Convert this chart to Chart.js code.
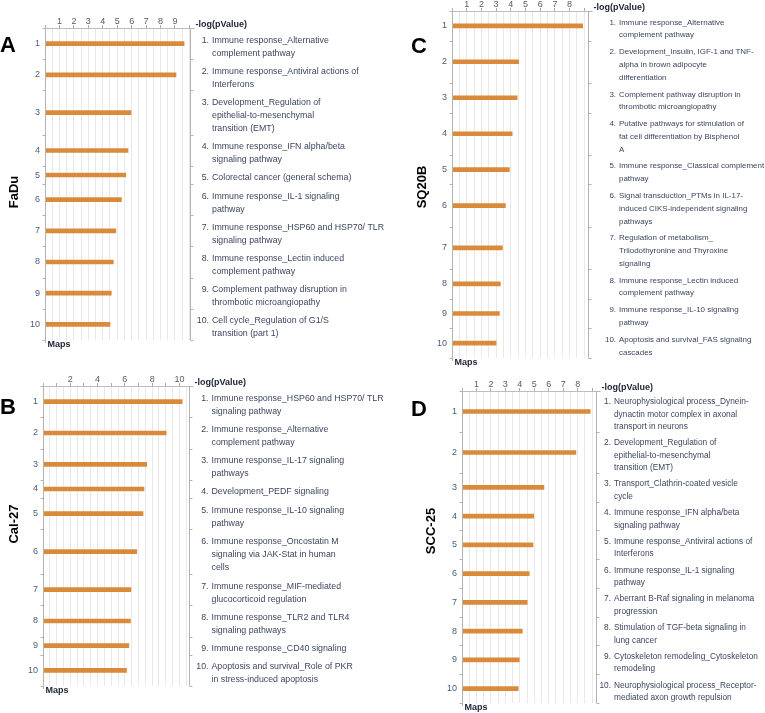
<!DOCTYPE html>
<html>
<head>
<meta charset="utf-8">
<script src="https://cdn.jsdelivr.net/npm/chart.js@4.4.1/dist/chart.umd.min.js"></script>
<style>
  body { margin: 0; background: #fff; }
  #wrap { position: relative; width: 765px; height: 713px; overflow: hidden; }
  canvas { position: absolute; left: 0; top: 0; }
  .tag { position: absolute; font-family: "Liberation Sans", Arial, sans-serif; font-weight: bold; color: #000; font-size: 22px; line-height: 1; transform: translate(-50%, -50%); }
  .name { position: absolute; font-family: "Liberation Sans", Arial, sans-serif; font-weight: bold; font-size: 13px; color: #000; white-space: nowrap; transform: translate(-50%, -50%) rotate(-90deg); }
</style>
</head>
<body>
<div id="wrap">
  <canvas id="cA" width="765" height="713"></canvas>
  <canvas id="cB" width="765" height="713"></canvas>
  <canvas id="cC" width="765" height="713"></canvas>
  <canvas id="cD" width="765" height="713"></canvas>
  <div class="tag" style="left:8px;top:45px">A</div>
  <div class="tag" style="left:8px;top:407px">B</div>
  <div class="tag" style="left:419px;top:46px">C</div>
  <div class="tag" style="left:419px;top:409px">D</div>
  <div class="name" style="left:13px;top:192px">FaDu</div>
  <div class="name" style="left:13px;top:524px">Cal-27</div>
  <div class="name" style="left:421px;top:187px">SQ20B</div>
  <div class="name" style="left:430px;top:531px">SCC-25</div>
</div>
<script>
// map names (line breaks as in the figure) and -log(pValue) values
const mapsA = [
  "Immune response_Alternative\ncomplement pathway",
  "Immune response_Antiviral actions of\nInterferons",
  "Development_Regulation of\nepithelial-to-mesenchymal\ntransition (EMT)",
  "Immune response_IFN alpha/beta\nsignaling pathway",
  "Colorectal cancer (general schema)",
  "Immune response_IL-1 signaling\npathway",
  "Immune response_HSP60 and HSP70/ TLR\nsignaling pathway",
  "Immune response_Lectin induced\ncomplement pathway",
  "Complement pathway disruption in\nthrombotic microangiopathy",
  "Cell cycle_Regulation of G1/S\ntransition (part 1)"
];
const valuesA = [9.63, 9.07, 5.96, 5.75, 5.59, 5.29, 4.9, 4.73, 4.59, 4.5];

const mapsB = [
  "Immune response_HSP60 and HSP70/ TLR\nsignaling pathway",
  "Immune response_Alternative\ncomplement pathway",
  "Immune response_IL-17 signaling\npathways",
  "Development_PEDF signaling",
  "Immune response_IL-10 signaling\npathway",
  "Immune response_Oncostatin M\nsignaling via JAK-Stat in human\ncells",
  "Immune response_MIF-mediated\nglucocorticoid regulation",
  "Immune response_TLR2 and TLR4\nsignaling pathways",
  "Immune response_CD40 signaling",
  "Apoptosis and survival_Role of PKR\nin stress-induced apoptosis"
];
const valuesB = [10.2, 9.03, 7.6, 7.4, 7.33, 6.87, 6.44, 6.41, 6.29, 6.12];

const mapsC = [
  "Immune response_Alternative\ncomplement pathway",
  "Development_Insulin, IGF-1 and TNF-\nalpha in brown adipocyte\ndifferentiation",
  "Complement pathway disruption in\nthrombotic microangiopathy",
  "Putative pathways for stimulation of\nfat cell differentiation by Bisphenol\nA",
  "Immune response_Classical complement\npathway",
  "Signal transduction_PTMs in IL-17-\ninduced CIKS-independent signaling\npathways",
  "Regulation of metabolism_\nTriiodothyronine and Thyroxine\nsignaling",
  "Immune response_Lectin induced\ncomplement pathway",
  "Immune response_IL-10 signaling\npathway",
  "Apoptosis and survival_FAS signaling\ncascades"
];
const valuesC = [8.89, 4.54, 4.43, 4.09, 3.9, 3.63, 3.43, 3.29, 3.22, 3.0];

const mapsD = [
  "Neurophysiological process_Dynein-\ndynactin motor complex in axonal\ntransport in neurons",
  "Development_Regulation of\nepithelial-to-mesenchymal\ntransition (EMT)",
  "Transport_Clathrin-coated vesicle\ncycle",
  "Immune response_IFN alpha/beta\nsignaling pathway",
  "Immune response_Antiviral actions of\nInterferons",
  "Immune response_IL-1 signaling\npathway",
  "Aberrant B-Raf signaling in melanoma\nprogression",
  "Stimulation of TGF-beta signaling in\nlung cancer",
  "Cytoskeleton remodeling_Cytoskeleton\nremodeling",
  "Neurophysiological process_Receptor-\nmediated axon growth repulsion"
];
const valuesD = [8.87, 7.88, 5.67, 4.96, 4.91, 4.65, 4.51, 4.17, 3.96, 3.89];

const FONT = '"Liberation Sans", Arial, sans-serif';
const BAR = '#d98a3a';

// draws borders, row ticks, row numbers and the map names
const rowPlugin = {
  id: 'rows',
  afterDraw(chart, args, o) {
    const ctx = chart.ctx, a = chart.chartArea, y = chart.scales.y, b = o.box;
    const L = Math.round(a.left) + 0.5, R = Math.round(a.right) + 0.5;
    ctx.save();
    ctx.strokeStyle = '#b3b3b3';
    ctx.lineWidth = 1;
    ctx.beginPath();
    ctx.moveTo(L, a.top - 3); ctx.lineTo(L, a.bottom + 3);
    ctx.moveTo(R, a.top); ctx.lineTo(R, a.bottom);
    o.bounds.forEach(v => {
      const py = Math.round(y.getPixelForValue(v)) + 0.5;
      ctx.moveTo(L - 3, py); ctx.lineTo(L, py);
      ctx.moveTo(R, py); ctx.lineTo(R + 3, py);
    });
    const ty = Math.round(a.top) + 0.5;
    ctx.moveTo(R, ty); ctx.lineTo(R + 4, ty);
    ctx.stroke();

    ctx.font = '9px ' + FONT;
    ctx.fillStyle = '#4e5a74';
    ctx.textBaseline = 'middle';
    ctx.textAlign = 'right';
    o.centers.forEach((c, i) => ctx.fillText(String(i + 1), a.left - 5, y.getPixelForValue(c)));

    ctx.font = b.fs + 'px ' + FONT;
    ctx.fillStyle = '#3d4660';
    o.maps.forEach((m, i) => {
      const lines = m.split('\n');
      const cy = y.getPixelForValue(o.centers[i]) + 3;
      const y0 = cy - (lines.length - 1) * b.lh / 2;
      ctx.textAlign = 'right';
      ctx.fillText((i + 1) + '.', b.textX - 3, y0);
      ctx.textAlign = 'left';
      lines.forEach((ln, k) => ctx.fillText(ln, b.textX, y0 + k * b.lh));
    });

    ctx.font = 'bold 9px ' + FONT;
    ctx.fillStyle = '#1d2336';
    ctx.textAlign = 'left';
    ctx.fillText('-log(pValue)', R + 5, a.top - 3);
    ctx.fillText('Maps', L + 2, a.bottom + 5);
    ctx.restore();
  }
};

function makePanel(id, maps, values, box) {
  const units = maps.map(m => m.split('\n').length + 0.35);
  const bounds = [0];
  units.forEach(u => bounds.push(bounds[bounds.length - 1] + u));
  const centers = units.map((u, i) => bounds[i] + u / 2);
  const total = bounds[bounds.length - 1];

  new Chart(document.getElementById(id), {
    type: 'bar',
    data: {
      datasets: [{
        data: values.map((v, i) => ({ x: v, y: centers[i] })),
        backgroundColor: BAR,
        barThickness: 4
      }]
    },
    options: {
      indexAxis: 'y',
      responsive: false,
      animation: false,
      layout: { padding: { left: box.left, right: 765 - box.right, top: box.top - 14, bottom: 713 - box.bottom } },
      plugins: {
        legend: { display: false },
        tooltip: { enabled: false },
        rows: { maps: maps, bounds: bounds, centers: centers, box: box }
      },
      scales: {
        y: { type: 'linear', reverse: true, min: 0, max: total, offset: false, display: false },
        x: {
          type: 'linear',
          position: 'top',
          min: 0,
          max: box.max,
          afterBuildTicks: s => {
            const t = [];
            for (let v = 0; v <= box.max + 1e-9; v += 0.5) t.push({ value: v });
            s.ticks = t;
          },
          afterFit: s => { s.height = 14; },
          ticks: {
            autoSkip: false,
            maxRotation: 0,
            padding: -2,
            color: '#555b6b',
            font: { family: FONT, size: 9 },
            callback: v => (v > 0 && v % box.step === 0 && v <= box.max - 0.6) ? String(v) : ''
          },
          grid: {
            color: '#e8e8e8',
            tickLength: 3,
            tickColor: c => (c.tick && c.tick.value % 1 === 0) ? '#aaaaaa' : 'rgba(0,0,0,0)'
          },
          border: { color: '#bdbdbd' }
        }
      }
    },
    plugins: [rowPlugin]
  });
}

makePanel('cA', mapsA, valuesA, { left: 45, right: 190, top: 28, bottom: 340, max: 10.04, step: 1, textX: 212, lh: 13, fs: 8.8 });
makePanel('cB', mapsB, valuesB, { left: 43, right: 189, top: 386, bottom: 686, max: 10.7, step: 2, textX: 211.5, lh: 13, fs: 8.8 });
makePanel('cC', mapsC, valuesC, { left: 452, right: 588, top: 11, bottom: 358, max: 9.25, step: 1, textX: 619, lh: 12.8, fs: 7.95 });
makePanel('cD', mapsD, valuesD, { left: 462, right: 596, top: 391, bottom: 703, max: 9.27, step: 1, textX: 614, lh: 12.6, fs: 8.3 });
</script>
</body>
</html>
